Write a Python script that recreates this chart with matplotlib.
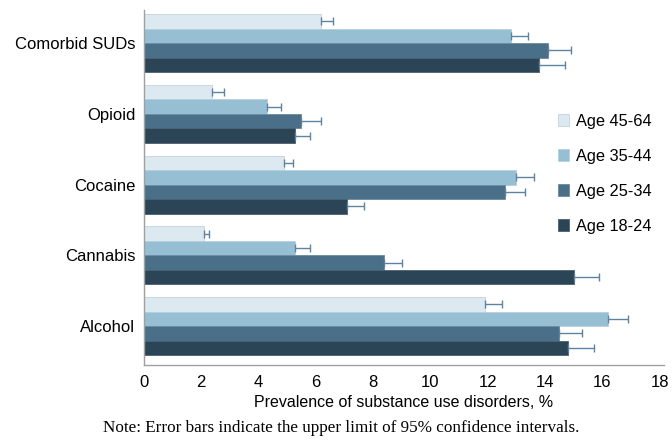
import matplotlib
matplotlib.use("Agg")
import matplotlib.pyplot as plt
import numpy as np

categories = ["Alcohol", "Cannabis", "Cocaine", "Opioid", "Comorbid SUDs"]
groups = ["Age 45-64", "Age 35-44", "Age 25-34", "Age 18-24"]
# values per group, order follows categories (Alcohol ... Comorbid SUDs)
v_45_64 = [11.9, 2.1, 4.9, 2.4, 6.2]
v_35_44 = [16.2, 5.3, 13.0, 4.3, 12.8]
v_25_34 = [14.5, 8.4, 12.6, 5.5, 14.1]
v_18_24 = [14.8, 15.0, 7.1, 5.3, 13.8]
u_45_64 = [12.5, 2.3, 5.2, 2.8, 6.6]
u_35_44 = [16.9, 5.8, 13.6, 4.8, 13.4]
u_25_34 = [15.3, 9.0, 13.3, 6.2, 14.9]
u_18_24 = [15.7, 15.9, 7.7, 5.8, 14.7]
xticks = [0, 2, 4, 6, 8, 10, 12, 14, 16, 18]

values = [v_45_64, v_35_44, v_25_34, v_18_24]
uppers = [u_45_64, u_35_44, u_25_34, u_18_24]
colors = ["#dce9f0", "#97bfd3", "#4a7089", "#2c4556"]
edges = ["#c5d2da", "#b5d0de", "#6a8aa0", "#4a6070"]

fig = plt.figure(figsize=(6.72, 4.4), dpi=100)
ax = fig.add_axes([143.5 / 672, 1 - 365 / 440, (664 - 143.5) / 672, (365 - 10) / 440])

h = 0.205
pos = np.arange(len(categories))
for i, (vals, ups) in enumerate(zip(values, uppers)):
    y = pos + (1.5 - i) * h
    vals = np.array(vals)
    ups = np.array(ups)
    ax.barh(y, vals, height=h, color=colors[i], edgecolor=edges[i], linewidth=0.6,
            label=groups[i], zorder=2)
    ax.errorbar(vals, y, xerr=[np.zeros_like(vals), ups - vals], fmt="none",
                ecolor="#5c84a2", elinewidth=1.0, capsize=3.2, capthick=1.0, zorder=3)

ax.set_xlim(0, 18.15)
ax.set_ylim(-0.55, 4.47)
ax.set_yticks(pos)
ax.set_yticklabels(categories, fontsize=12, family=["Liberation Sans", "DejaVu Sans"])
ax.set_xticks(xticks)
ax.set_xticklabels([str(t) for t in xticks], fontsize=12,
                   family=["Liberation Sans Narrow", "Liberation Sans", "DejaVu Sans"])
ax.tick_params(axis="both", length=0)
ax.tick_params(axis="y", pad=6)
ax.tick_params(axis="x", pad=7)
for s in ["top", "right"]:
    ax.spines[s].set_visible(False)
for s in ["left", "bottom"]:
    ax.spines[s].set_color("#a0a0a0")
    ax.spines[s].set_linewidth(1.0)

ax.set_xlabel("Prevalence of substance use disorders, %", fontsize=11.5,
              family=["Liberation Sans", "DejaVu Sans"], labelpad=4)

handles, labels = ax.get_legend_handles_labels()
leg = ax.legend(handles, labels, loc="upper left", bbox_to_anchor=(0.768, 0.749),
                frameon=False, prop={"family": "Liberation Sans", "size": 11.8},
                handlelength=0.7, handleheight=0.7, handletextpad=0.4, labelspacing=1.22)

fig.text(341 / 672, 1 - 428 / 440, "Note: Error bars indicate the upper limit of 95% confidence intervals.",
         ha="center", va="center", fontsize=12.3, family=["Liberation Serif", "DejaVu Serif"])

fig.savefig("out.png", dpi=100)
